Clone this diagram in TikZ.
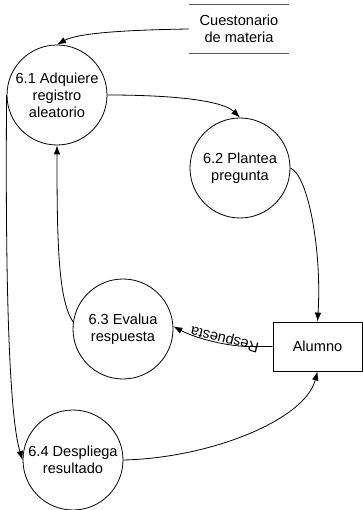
\documentclass[tikz,border=0pt]{standalone}
\usepackage{fontspec}
\setmainfont{Liberation Sans}
\usetikzlibrary{arrows.meta}
\begin{document}
\begin{tikzpicture}[x=1pt,y=-1pt,
  every node/.style={font=\fontsize{14.6}{17}\selectfont, text=black},
  proc/.style={draw, circle, line width=0.8pt, minimum size=100pt, inner sep=0pt, align=center},
  entity/.style={draw, rectangle, line width=0.8pt, minimum width=89pt, minimum height=49pt, inner sep=0pt},
  store/.style={rectangle, minimum width=100pt, minimum height=48pt, inner sep=0pt, align=center},
  flow/.style={line width=0.8pt, -{Latex[length=9pt,width=6.5pt]}}]
\useasboundingbox (0,0) rectangle (363,510);
\fill[white] (0,0) rectangle (363,510);

% processes, external entity and data store
\node[proc] (p1) at (57,95) {6.1 Adquiere\\registro\\aleatorio};
\node[proc] (p2) at (240,168) {6.2 Plantea\\pregunta};
\node[proc] (p3) at (123,329) {6.3 Evalua\\respuesta};
\node[proc] (p4) at (73,460) {6.4 Despliega\\resultado};
\node[entity] (al) at (317.5,346.5) {Alumno};
\node[store] (cm) at (239,29) {Cuestonario\\de materia};
\draw[line width=0.8pt, gray!70!black] (cm.north west) -- (cm.north east)
  (cm.south west) -- (cm.south east);

% data flows
\draw[flow] (cm.west) .. controls (125,30) and (78,33) .. (p1.north);
\draw[flow] (p1.east) .. controls (170,95) and (222,100) .. (p2.north);
\draw[flow] (p2.east) .. controls (308,175) and (322,250) .. (al.north);
\draw[flow] (al.west) -- ++(-20,0) .. controls (228,347) and (195,338) .. (p3.3)
  node[pos=0.36, rotate=166, anchor=north, inner sep=-1.5pt] {Respuesta};
\draw[flow] (p3.172) .. controls (58,300) and (57,240) .. (p1.south);
\draw[flow] (p1.west) .. controls (5,300) and (10,420) .. (p4.west);
\draw[flow] (p4.east) .. controls (210,458) and (305,420) .. (al.south);
\end{tikzpicture}
\end{document}
